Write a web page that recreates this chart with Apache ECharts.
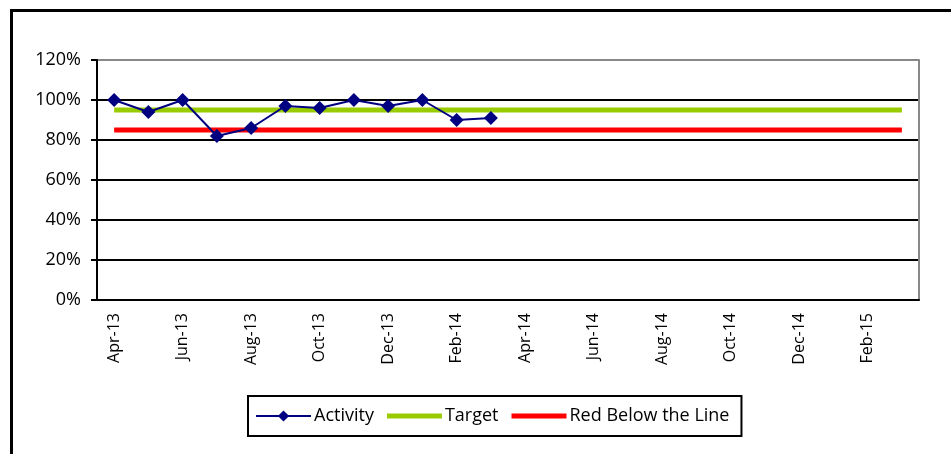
<!DOCTYPE html>
<html><head><meta charset="utf-8">
<script src="https://cdn.jsdelivr.net/npm/echarts@6/dist/echarts.min.js"></script>
<style>html,body{margin:0;padding:0;background:#fff}#c{width:951px;height:454px}</style>
</head><body><div id="c"></div>
<script>
var categories = ['Apr-13','May-13','Jun-13','Jul-13','Aug-13','Sep-13','Oct-13','Nov-13','Dec-13','Jan-14','Feb-14','Mar-14',
  'Apr-14','May-14','Jun-14','Jul-14','Aug-14','Sep-14','Oct-14','Nov-14','Dec-14','Jan-15','Feb-15','Mar-15'];
var activity = [100,94,100,82,86,97,96,100,97,100,90,91,null,null,null,null,null,null,null,null,null,null,null,null];
var target = [95,95,95,95,95,95,95,95,95,95,95,95,95,95,95,95,95,95,95,95,95,95,95,95];
var redLine = [85,85,85,85,85,85,85,85,85,85,85,85,85,85,85,85,85,85,85,85,85,85,85,85];
var yTicks = {min:0, max:120, interval:20};

var FONT = 'Open Sans';
var barIcon = 'path://M0,0 L55,0 L55,5 L0,5 Z';
var chart = echarts.init(document.getElementById('c'));
chart.setOption({
  animation:false,
  backgroundColor:'#fff',
  textStyle:{fontFamily:FONT},
  graphic:[{type:'rect', left:9, top:8, shape:{width:980, height:480}, style:{fill:'none', stroke:'#000', lineWidth:3}, z:-1}],
  grid:{left:97, right:32, top:60, bottom:154},
  legend:{
    left:248, top:396,
    padding:[11,12,11,7],
    borderColor:'#000', borderWidth:2,
    itemWidth:55, itemHeight:14, itemGap:13,
    symbolKeepAspect:true,
    textStyle:{fontFamily:FONT, fontSize:18, color:'#000', padding:[0,0,0,-2]},
    data:[{name:'Activity'},{name:'Target', icon:barIcon},{name:'Red Below the Line', icon:barIcon}]
  },
  xAxis:{
    type:'category', data:categories, boundaryGap:true,
    axisLine:{lineStyle:{color:'#000', width:2}},
    axisTick:{interval:1, length:6, lineStyle:{color:'#000', width:2}},
    axisLabel:{interval:1, rotate:90, color:'#000', fontSize:16, fontFamily:FONT, margin:13},
    splitLine:{show:false}
  },
  yAxis:[{
    type:'value', min:yTicks.min, max:yTicks.max, interval:yTicks.interval,
    axisLine:{show:true, lineStyle:{color:'#000', width:2}},
    axisTick:{show:true, length:6, lineStyle:{color:'#000', width:2}},
    axisLabel:{formatter:'{value}%', color:'#000', fontSize:18, fontFamily:FONT, margin:16},
    splitLine:{lineStyle:{color:['#000','#000','#000','#000','#000','#000','#888'], width:2}}
  },{
    type:'value', min:yTicks.min, max:yTicks.max, interval:yTicks.interval, position:'right',
    axisLine:{show:true, lineStyle:{color:'#888', width:2}},
    axisTick:{show:false}, axisLabel:{show:false}, splitLine:{show:false}
  }],
  series:[
    {name:'Target', type:'line', data:target, symbol:'none', z:2,
      lineStyle:{color:'#99CC00', width:5}, itemStyle:{color:'#99CC00'}},
    {name:'Red Below the Line', type:'line', data:redLine, symbol:'none', z:2,
      lineStyle:{color:'#FF0000', width:5}, itemStyle:{color:'#FF0000'}},
    {name:'Activity', type:'line', data:activity, symbol:'diamond', symbolSize:14, z:3,
      lineStyle:{color:'#000080', width:2}, itemStyle:{color:'#000080'}}
  ]
});
</script></body></html>
